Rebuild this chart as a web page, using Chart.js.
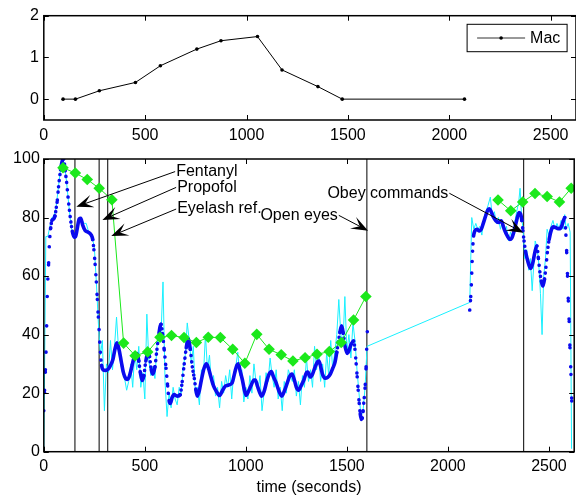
<!DOCTYPE html>
<html><head><meta charset="utf-8">
<script src="https://cdn.jsdelivr.net/npm/chart.js@4.4.1/dist/chart.umd.min.js"></script>
<style>
html,body{margin:0;padding:0;background:#fff;overflow:hidden;width:576px;height:496px;position:relative;}
canvas{position:absolute;left:0;display:block;}
#topc{top:0;}
#botc{top:145px;}
</style></head><body>
<canvas id="topc" width="580" height="145"></canvas>
<canvas id="botc" width="580" height="351"></canvas>
<script>
// ---------- data ----------
const xTicks = [0, 500, 1000, 1500, 2000, 2500];
const macYTicks = [0, 1, 2];
const yTicks = [0, 20, 40, 60, 80, 100];

const macLabel = 'Mac';
const macT = [95, 156, 274, 452, 575, 755, 874, 1054, 1175, 1352, 1472, 2075];
const macV = [0, 0, 0.2, 0.4, 0.8, 1.2, 1.4, 1.5, 0.7, 0.3, 0, 0];

// raw signal (cyan), first part sampled every 10 s from 0 to 1600 s
const cyanStep = 10;
const cyanA = [
  0,73.5,73.5,77,80,80.5,83,89,95,99,
  99,94,87,80,75,73.5,74.5,78,80,79,
  78,78,75.5,74,73,70,58,44,33,38,
  14,30,27,38,28,36,46,35,30,27,
  25,21,24,30,22,34,28,36,22,27,
  18,47,31,26,29,25,36,42,40,58,
  24,12,20,15,22,18,16,22,20,29,
  33,44,38,30,36,20,22,16,28,26,
  40,28,33,23,26,19,22,15,24,20,
  26,22,28,18,27,29,34,26,28,17,
  22,18,26,20,30,24,21,26,14,20,
  27,24,32,26,22,28,18,22,14,24,
  20,28,26,24,28,19,24,16,26,22,
  32,24,28,22,36,28,34,24,30,22,
  34,26,38,28,34,40,52,40,36,53,
  34,40,32,44,38,28,20,12,14,22,
  36];
const cyanBT = [2108,2118,2128,2138,2148,2158,2168,2178,2188,2198,2210,2220,2230,2240,2250,2260,2270,2280,2290,2300,2310,2320,2330,2340,2350,2357,2365,2372,2380,2390,2400,2408,2417,2425,2432,2440,2448,2458,2466,2474,2483,2491,2500,2510,2520,2530,2540,2550,2560,2570,2578,2585,2595,2605,2612];
const cyanBV = [51,80,76,78,76,77,74,80,82,84,87,80,82,78,80,76,79,75,77,72,75,73,78,82,85,90,80,76,66,69,62,66,55,64,72,70,66,54,40,60,66,76,74,77,79,76,78,76,79,76,81,76,78,75,1];

// smoothed signal (blue dots)
const blueAT = [0,4,8,11,14,17,20,24,27,30,34,40,48,55,62,67,73,83,93,98,106,113,120,127,134,142,150,157,165,175,183,192,205,220,235,242,248,254,260,265,270,275,280,286,293,305,318,330,342,352,362,372,383,394,405,413,422,432,442,452,462,470,478,487,495,505,515,523,532,540,550,560,570,580,588,596,605,613,620,626,635,645,660,675,685,695,705,715,725,735,745,753,760,770,780,793,805,815,827,840,855,870,885,900,915,932,945,955,963,972,983,993,1002,1012,1025,1040,1047,1057,1067,1078,1090,1105,1115,1126,1137,1150,1165,1178,1192,1205,1215,1228,1240,1250,1261,1273,1287,1300,1307,1318,1330,1343,1355,1362,1372,1380,1392,1405,1418,1430,1441,1450,1458,1466,1474,1482,1491,1502,1510,1520,1533,1540,1546,1551,1556,1561,1566,1572,1576,1580,1586,1591,1595,1598,1601,1603];
const blueAV = [14,21,28,34,43,53,59,64.5,70,73.5,76.5,79,79.5,80.5,83.5,86,90.5,96.3,99.7,100,96,92,87,82.5,78.5,75,73.3,73.5,76,79.5,79.7,77.5,75.5,75,74,72.5,69,64,58,52,46,40,34,29.5,28,27.8,28.2,29.5,31.5,35,37.2,35,31,27,25,24.7,25.5,28,31,33,33.5,31,27,24.3,26,31,33.5,32.5,28,26.5,29,35,40.5,43.5,40,34.8,28.5,22.5,17.5,16.5,18.5,19.5,19,19.5,24,30,35.5,38.5,35,29,25,21,19,21,24.5,28.5,30,28.5,25.5,22.5,20.5,19.2,21,22.5,22.8,23.5,27,29.5,30,27.5,24.5,21,19.2,20.5,22.5,24.5,24.5,22.5,20.5,19,20.5,24.5,26.5,27.4,25.5,23.5,20.5,19,21,23.5,25.5,26.5,24.5,22,21,22.5,24.5,27,27.2,25.5,26.5,29,30.8,31,28.5,26.3,25.1,25.4,26.5,28.5,30.5,34,37.5,41,43,40.5,36,33.6,34.5,36.5,37.8,35,30,25.6,21,16.5,13,11,11.5,14,18.5,23,29,35,41,44];
const blueBT = [2108,2113,2116,2118,2120,2122,2124,2127,2133,2143,2156,2165,2175,2187,2197,2205,2214,2225,2237,2250,2264,2272,2280,2294,2306,2316,2326,2340,2352,2360,2366,2371,2377,2384,2392,2400,2410,2420,2430,2440,2448,2455,2463,2470,2478,2485,2492,2501,2512,2522,2533,2545,2555,2565,2572,2578,2584,2588,2592,2596,2600,2604,2609,2613,2616];
const blueBV = [48.4,53,57,61,65,68.5,71,73.7,75.4,76,75.4,76,78,80.6,82.5,83,82,80.2,78.9,78.3,78.9,77.5,75.8,73.7,72.5,73,75,79,81.7,81.2,79,75.5,72,68.5,66,64,62.6,64.5,68,70.3,66,61.5,58,56.6,59,63,68,72.5,75.8,76.8,76.6,76.2,76.2,77.5,79,80,74,68,60,51.5,44.5,35.5,26.4,17.3,8.2];

// green diamonds
const greenAT = [95,156,215,274,337,395,452,514,575,632,694,755,814,874,935,995,1054,1115,1175,1233,1293,1352,1413,1472,1533,1594];
const greenAV = [97,95.2,93,90,86.1,37.1,32.8,34.1,39.1,39.7,39.0,37.3,39.1,39.0,35.0,30.2,40.1,35.0,33.1,31.0,32.1,33.3,34.2,37.3,45.0,53];
const greenBT = [2248,2311,2370,2431,2491,2552,2610];
const greenBV = [86.0,82.3,85.3,88.2,87.2,85.3,90];

// event markers (vertical lines)
const eventT = [154, 274, 316, 1599, 2375];

// annotations (text at the tail, arrow to the head)
const annotLabels = ['Fentanyl', 'Propofol', 'Eyelash ref.', 'Open eyes', 'Obey commands'];
const annotTailT = [650, 655, 655, 1460, 2007];
const annotTailV = [95.7, 90.3, 82.9, 80.75, 88.3];
const annotHeadT = [161, 290, 334, 1605, 2373];
const annotHeadV = [83.7, 79.2, 73.7, 75.5, 74.8];

const xTitle = 'time (seconds)';

// ---------- helpers ----------
const FONT = '"Liberation Sans", Arial, Helvetica, sans-serif';
Chart.defaults.font.family = FONT;
Chart.defaults.font.size = 16;
Chart.defaults.color = '#000';

const pts = (ts, vs) => ts.map((t, i) => ({x: t, y: vs[i]}));
const fmt = v => String(v);

const framePlugin = {
  id: 'frame',
  afterDatasetsDraw(chart) {
    const {ctx, chartArea: a, scales: {x, y}} = chart;
    ctx.save();
    ctx.strokeStyle = '#000';
    ctx.lineWidth = 1;
    ctx.beginPath();
    x.ticks.forEach(t => {
      const p = Math.round(x.getPixelForValue(t.value)) + 0.5;
      ctx.moveTo(p, a.bottom); ctx.lineTo(p, a.bottom - 5);
      ctx.moveTo(p, a.top); ctx.lineTo(p, a.top + 5);
    });
    y.ticks.forEach(t => {
      const p = Math.round(y.getPixelForValue(t.value)) + 0.5;
      ctx.moveTo(a.left, p); ctx.lineTo(a.left + 5, p);
      ctx.moveTo(a.right, p); ctx.lineTo(a.right - 5, p);
    });
    ctx.stroke();
    ctx.lineWidth = 1.5;
    ctx.strokeRect(a.left, a.top, a.right - a.left, a.bottom - a.top);
    ctx.restore();
  }
};

const legendPlugin = {
  id: 'macLegend',
  afterDraw(chart) {
    const ctx = chart.ctx, a = chart.chartArea;
    const bw = 100, bh = 27.4;
    const bx = a.right - 8.9 - bw, by = a.top + 8.6;
    ctx.save();
    ctx.fillStyle = '#fff';
    ctx.fillRect(bx, by, bw, bh);
    ctx.strokeStyle = '#000'; ctx.lineWidth = 1;
    ctx.strokeRect(bx, by, bw, bh);
    const cy = by + bh / 2;
    ctx.strokeStyle = '#333';
    ctx.beginPath(); ctx.moveTo(bx + 10, cy); ctx.lineTo(bx + 58, cy); ctx.stroke();
    ctx.fillStyle = '#000';
    ctx.beginPath(); ctx.arc(bx + 34, cy, 1.8, 0, Math.PI * 2); ctx.fill();
    ctx.font = '16px ' + FONT;
    ctx.textBaseline = 'middle'; ctx.textAlign = 'left';
    ctx.fillText(chart.data.datasets[0].label, bx + 63, cy + 0.5);
    ctx.restore();
  }
};

const annotPlugin = {
  id: 'annot',
  afterDraw(chart) {
    const {ctx, scales: {x, y}} = chart;
    ctx.save();
    ctx.font = '16px ' + FONT;
    ctx.fillStyle = '#000'; ctx.strokeStyle = '#000'; ctx.lineWidth = 1;
    ctx.textBaseline = 'middle';
    annotLabels.forEach((txt, i) => {
      const tx = x.getPixelForValue(annotTailT[i]), ty = y.getPixelForValue(annotTailV[i]);
      const hx = x.getPixelForValue(annotHeadT[i]), hy = y.getPixelForValue(annotHeadV[i]);
      const dx = hx - tx, dy = hy - ty, len = Math.hypot(dx, dy);
      const ux = dx / len, uy = dy / len, nx = -uy, ny = ux;
      const L = 17, W = 6.5, N = 0.55 * L;
      ctx.beginPath(); ctx.moveTo(tx, ty); ctx.lineTo(hx - ux * N, hy - uy * N); ctx.stroke();
      ctx.beginPath();
      ctx.moveTo(hx, hy);
      ctx.lineTo(hx - ux * L + nx * W, hy - uy * L + ny * W);
      ctx.lineTo(hx - ux * N, hy - uy * N);
      ctx.lineTo(hx - ux * L - nx * W, hy - uy * L - ny * W);
      ctx.closePath(); ctx.fill();
      if (hx < tx) { ctx.textAlign = 'left'; ctx.fillText(txt, tx + 1, ty); }
      else { ctx.textAlign = 'right'; ctx.fillText(txt, tx - 1, ty); }
    });
    ctx.restore();
  }
};

const xMax = 2625;

// ---------- top chart ----------
new Chart(document.getElementById('topc'), {
  type: 'scatter',
  data: {
    datasets: [{
      label: macLabel,
      data: pts(macT, macV),
      showLine: true,
      borderColor: '#000', borderWidth: 1,
      pointRadius: 1.8, pointBackgroundColor: '#000', pointBorderWidth: 0,
      tension: 0
    }]
  },
  options: {
    responsive: false, animation: false, devicePixelRatio: 1, events: [],
    layout: {padding: {top: 15.7, right: 2.8, left: 0, bottom: 0}},
    plugins: {legend: {display: false}, tooltip: {enabled: false}},
    scales: {
      x: {
        type: 'linear', min: 0, max: xMax,
        afterBuildTicks: s => { s.ticks = xTicks.map(v => ({value: v})); },
        afterFit: s => { s.height = 25; },
        grid: {display: false, drawTicks: false}, border: {display: false},
        ticks: {padding: 6.4, callback: fmt, maxRotation: 0, autoSkip: false}
      },
      y: {
        min: -0.5, max: 2,
        afterBuildTicks: s => { s.ticks = macYTicks.map(v => ({value: v})); },
        afterFit: s => { s.width = 43.8; },
        grid: {display: false, drawTicks: false}, border: {display: false},
        ticks: {padding: 5, callback: fmt}
      }
    }
  },
  plugins: [framePlugin, legendPlugin]
});

// ---------- bottom chart ----------
const cyanData = cyanA.map((v, i) => ({x: i * cyanStep, y: v})).concat(pts(cyanBT, cyanBV));
const blueData = pts(blueAT, blueAV).concat([{x: 1850, y: null}], pts(blueBT, blueBV));
const greenData = pts(greenAT, greenAV).concat([{x: 1900, y: null}], pts(greenBT, greenBV));

const eventSets = eventT.map((t, i) => ({
  data: [{x: t, y: yTicks[0]}, {x: t, y: yTicks[yTicks.length - 1]}],
  showLine: true,
  borderColor: i < 3 ? '#3a3a3a' : '#000',
  borderWidth: i < 3 ? 1.3 : 1,
  pointRadius: 0,
  order: 5
}));

new Chart(document.getElementById('botc'), {
  type: 'scatter',
  data: {
    datasets: [
      {
        label: 'estimate', data: greenData, showLine: true, spanGaps: false,
        borderColor: '#1be81b', borderWidth: 1,
        pointStyle: 'rectRot', pointRadius: 5.8,
        pointBackgroundColor: '#1be81b', pointBorderWidth: 0,
        order: 0
      },
      {
        label: 'smoothed', data: blueData, showLine: true, spanGaps: false,
        borderColor: '#0a0aee', borderWidth: 3.6, borderCapStyle: 'round', borderJoinStyle: 'round',
        cubicInterpolationMode: 'monotone', pointRadius: 0,
        segment: {
          borderDash: ctx => {
            const dx = Math.abs(ctx.p1.x - ctx.p0.x), dy = Math.abs(ctx.p1.y - ctx.p0.y);
            const s = dy / Math.max(dx, 0.01);
            const sp = 0.72 * Math.sqrt(1 + s * s);
            return sp > 4.2 ? [0.01, sp] : undefined;
          }
        },
        order: 1
      },
      {
        label: 'raw', data: cyanData, showLine: true,
        borderColor: '#19f0ff', borderWidth: 1, pointRadius: 0, tension: 0,
        order: 2
      },
      ...eventSets
    ]
  },
  options: {
    responsive: false, animation: false, devicePixelRatio: 1, events: [],
    layout: {padding: {top: 14, right: 2.8, left: 0, bottom: 0}},
    plugins: {legend: {display: false}, tooltip: {enabled: false}},
    scales: {
      x: {
        type: 'linear', min: 0, max: xMax,
        afterBuildTicks: s => { s.ticks = xTicks.map(v => ({value: v})); },
        afterFit: s => { s.height = 44.3; },
        grid: {display: false, drawTicks: false}, border: {display: false},
        ticks: {padding: 5.4, callback: fmt, maxRotation: 0, autoSkip: false},
        title: {display: true, text: xTitle, font: {size: 16}, padding: {top: 0, bottom: -1.5}}
      },
      y: {
        min: 0, max: 100,
        afterBuildTicks: s => { s.ticks = yTicks.map(v => ({value: v})); },
        afterFit: s => { s.width = 43.8; },
        grid: {display: false, drawTicks: false}, border: {display: false},
        ticks: {padding: 4, callback: fmt}
      }
    }
  },
  plugins: [framePlugin, annotPlugin]
});
</script>
</body></html>
